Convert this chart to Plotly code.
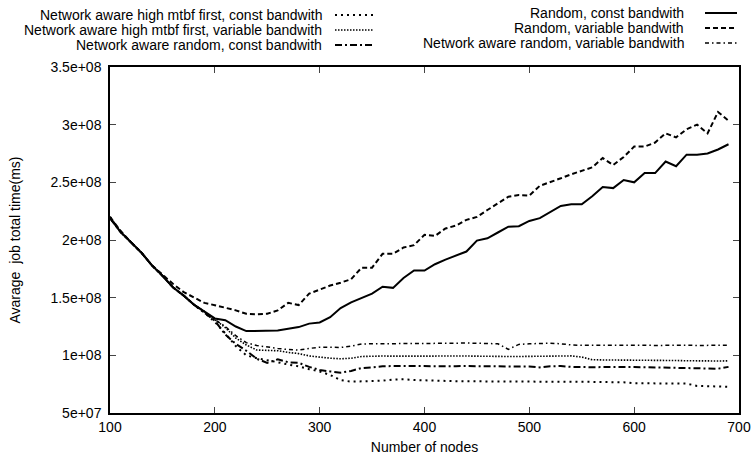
import plotly.graph_objects as go

# ---------------- data (values in units of 1e8 ms) ----------------
nodes = [100, 110, 120, 130, 140, 150, 160, 170, 180, 190,
         200, 210, 220, 230, 240, 250, 260, 270, 280, 290,
         300, 310, 320, 330, 340, 350, 360, 370, 380, 390,
         400, 410, 420, 430, 440, 450, 460, 470, 480, 490,
         500, 510, 520, 530, 540, 550, 560, 570, 580, 590,
         600, 610, 620, 630, 640, 650, 660, 670, 680, 690]

hm_const = [2.20, 2.07, 1.98, 1.89, 1.78, 1.69, 1.59, 1.52, 1.44, 1.37,
            1.29, 1.19, 1.08, 1.00, 0.975, 0.96, 0.94, 0.92, 0.905, 0.88,
            0.86, 0.83, 0.785, 0.772, 0.774, 0.776, 0.78, 0.79, 0.792, 0.786,
            0.782, 0.78, 0.778, 0.776, 0.775, 0.774, 0.775, 0.774, 0.773, 0.772,
            0.772, 0.771, 0.772, 0.771, 0.77, 0.77, 0.77, 0.769, 0.768, 0.766,
            0.758, 0.757, 0.757, 0.756, 0.756, 0.755, 0.735, 0.73, 0.73, 0.727]

hm_var = [2.19, 2.07, 1.98, 1.89, 1.78, 1.69, 1.59, 1.52, 1.44, 1.38,
          1.31, 1.24, 1.15, 1.09, 1.046, 1.046, 1.04, 1.025, 1.015, 0.995,
          0.982, 0.975, 0.97, 0.975, 0.99, 0.995, 0.994, 0.993, 0.994, 0.995,
          0.994, 0.993, 0.994, 0.995, 0.994, 0.993, 0.994, 0.993, 0.99, 0.99,
          0.991, 0.99, 0.99, 0.992, 0.995, 0.985, 0.962, 0.96, 0.96, 0.96,
          0.961, 0.96, 0.958, 0.957, 0.955, 0.953, 0.951, 0.952, 0.951, 0.952]

na_rand_const = [2.19, 2.07, 1.98, 1.89, 1.78, 1.69, 1.59, 1.52, 1.44, 1.37,
                 1.30, 1.18, 1.10, 1.04, 0.97, 0.935, 0.965, 0.94, 0.935, 0.90,
                 0.873, 0.86, 0.85, 0.865, 0.89, 0.896, 0.905, 0.907, 0.906, 0.905,
                 0.907, 0.905, 0.904, 0.906, 0.907, 0.905, 0.904, 0.906, 0.905, 0.903,
                 0.904, 0.895, 0.905, 0.907, 0.90, 0.896, 0.897, 0.898, 0.896, 0.897,
                 0.898, 0.897, 0.896, 0.895, 0.894, 0.893, 0.89, 0.885, 0.884, 0.90]

random_const = [2.19, 2.07, 1.98, 1.89, 1.78, 1.69, 1.59, 1.52, 1.44, 1.38,
                1.32, 1.305, 1.25, 1.21, 1.212, 1.213, 1.215, 1.23, 1.245, 1.275,
                1.285, 1.33, 1.41, 1.46, 1.50, 1.535, 1.595, 1.585, 1.67, 1.735,
                1.735, 1.79, 1.83, 1.865, 1.90, 1.995, 2.015, 2.065, 2.115, 2.12,
                2.165, 2.19, 2.245, 2.295, 2.31, 2.31, 2.38, 2.46, 2.45, 2.52,
                2.50, 2.58, 2.58, 2.68, 2.64, 2.74, 2.74, 2.75, 2.785, 2.83]

random_var = [2.20, 2.08, 1.98, 1.89, 1.78, 1.70, 1.62, 1.55, 1.50, 1.455,
              1.435, 1.413, 1.39, 1.36, 1.356, 1.36, 1.39, 1.455, 1.436, 1.535,
              1.57, 1.605, 1.63, 1.66, 1.76, 1.76, 1.88, 1.88, 1.935, 1.955,
              2.045, 2.035, 2.10, 2.125, 2.175, 2.20, 2.26, 2.32, 2.375, 2.39,
              2.385, 2.47, 2.50, 2.535, 2.57, 2.60, 2.63, 2.71, 2.65, 2.72,
              2.81, 2.81, 2.845, 2.925, 2.89, 2.96, 3.00, 2.925, 3.11, 3.035]

na_rand_var = [2.20, 2.07, 1.98, 1.89, 1.78, 1.69, 1.59, 1.52, 1.44, 1.38,
               1.31, 1.25, 1.17, 1.11, 1.085, 1.07, 1.06, 1.05, 1.046, 1.06,
               1.07, 1.07, 1.068, 1.08, 1.098, 1.10, 1.10, 1.103, 1.10, 1.105,
               1.103, 1.10, 1.103, 1.105, 1.107, 1.103, 1.105, 1.10, 1.052, 1.095,
               1.10, 1.103, 1.105, 1.10, 1.09, 1.087, 1.088, 1.086, 1.088, 1.085,
               1.087, 1.088, 1.086, 1.088, 1.085, 1.087, 1.086, 1.085, 1.086, 1.087]

x_ticks = [100, 200, 300, 400, 500, 600, 700]
y_tickvals = [5e7, 1e8, 1.5e8, 2e8, 2.5e8, 3e8, 3.5e8]
y_ticktext = ["5e+07", "1e+08", "1.5e+08", "2e+08", "2.5e+08", "3e+08", "3.5e+08"]

# ---------------- figure ----------------
FONT = "Liberation Sans, Arial, Helvetica, sans-serif"
FS = 14
W, H = 756, 459
L, R, T, B = 110, 17, 67, 46
PW, PH = W - L - R, H - T - B

def px_x(p):
    return (p - L) / PW

def px_y(p):
    return (H - B - p) / PH

series = [
    ("Network aware high mtbf first, const bandwith", hm_const, 2, "2px,4px"),
    ("Network aware high mtbf first, variable bandwith", hm_var, 1.6, "1.5px,1.5px"),
    ("Network aware random, const bandwith", na_rand_const, 2, "7px,3px,2px,3px"),
    ("Random, const bandwith", random_const, 2, "solid"),
    ("Random, variable bandwith", random_var, 2, "5px,3px"),
    ("Network aware random, variable bandwith", na_rand_var, 1.5, "4px,3px,1.5px,3px"),
]

fig = go.Figure()
for name, vals, w, dash in series:
    fig.add_trace(go.Scatter(
        x=nodes, y=[v * 1e8 for v in vals], mode="lines", name=name,
        line=dict(color="black", width=w, dash=dash), showlegend=False,
    ))

# manual gnuplot-style key (text right-aligned, sample to the right)
key_left = dict(text_right=323, s0=335, s1=373, rows=[15, 30, 45])
key_right = dict(text_right=685, s0=705, s1=737, rows=[13, 28, 43])
annotations = []
shapes = []
for i, (name, vals, w, dash) in enumerate(series):
    k = key_left if i < 3 else key_right
    row = k["rows"][i % 3]
    annotations.append(dict(
        x=px_x(k["text_right"]), y=px_y(row), xref="paper", yref="paper",
        text=name, showarrow=False, xanchor="right", yanchor="middle",
        borderpad=0,
        font=dict(family=FONT, size=FS, color="black"),
    ))
    shapes.append(dict(
        type="line", xref="paper", yref="paper",
        x0=px_x(k["s0"]), x1=px_x(k["s1"]), y0=px_y(row), y1=px_y(row),
        line=dict(color="black", width=w, dash=dash),
    ))

fig.update_layout(
    width=W, height=H,
    margin=dict(l=L, r=R, t=T, b=B, autoexpand=False),
    paper_bgcolor="white", plot_bgcolor="white",
    font=dict(family=FONT, size=FS, color="black"),
    annotations=annotations, shapes=shapes,
    showlegend=False,
)
fig.update_xaxes(
    range=[100, 700], tickvals=x_ticks, ticks="inside", ticklen=6, tickwidth=1,
    showline=True, linecolor="black", linewidth=1.5, mirror="ticks",
    showgrid=False, zeroline=False, automargin=False,
    title=dict(text="Number of nodes", standoff=9, font=dict(size=FS)),
    tickfont=dict(size=FS),
)
fig.update_yaxes(
    range=[5e7, 3.5e8], tickvals=y_tickvals, ticktext=y_ticktext,
    ticks="inside", ticklen=6, tickwidth=1,
    showline=True, linecolor="black", linewidth=1.5, mirror="ticks",
    showgrid=False, zeroline=False, automargin=False,
    title=dict(text="Avarage\u00a0 job total time(ms)", standoff=27, font=dict(size=FS)),
    tickfont=dict(size=FS), ticklabelstandoff=4,
)

fig.write_html(
    "out.html",
    config={"displayModeBar": False},
    post_script="document.body.style.margin='0px';document.body.style.overflow='hidden';",
)
